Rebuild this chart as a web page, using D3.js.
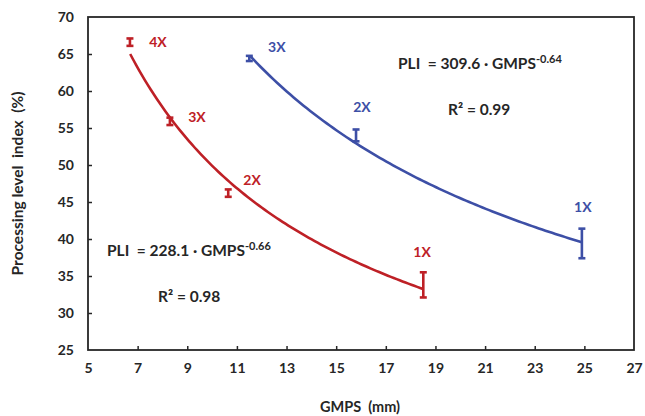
<!DOCTYPE html>
<html><head><meta charset="utf-8">
<script src="https://cdn.jsdelivr.net/npm/d3@7"></script>
<style>
body{margin:0;background:#fff;}
text{font-family:Lato,"Open Sans",sans-serif;font-weight:bold;white-space:pre;}
</style></head>
<body><svg id="c" width="645" height="416"></svg>
<script>
// ---- data ----
const xTicks = [5,7,9,11,13,15,17,19,21,23,25,27];
const yTicks = [25,30,35,40,45,50,55,60,65,70];
const redLabels = ["4X","3X","2X","1X"];
const redX = [6.69, 8.30, 10.65, 18.51];
const redY = [66.6, 55.9, 46.2, 33.8];
const redErr = [0.5, 0.5, 0.5, 1.7];
const blueLabels = ["3X","2X","1X"];
const blueX = [11.5, 15.8, 24.9];
const blueY = [64.4, 54.0, 39.4];
const blueErr = [0.35, 0.8, 2.0];
const fitA = [228.1, 309.6];
const fitB = [-0.66, -0.64];
const fitR2 = ["0.98", "0.99"];
const fitRange = [[6.7, 18.5],[11.55, 24.9]];

const RED = "#BE2026", BLUE = "#3D4FA6";
const svg = d3.select("#c");
const L = 88, R = 634, T = 17, B = 350;
const x = d3.scaleLinear().domain([5,27]).range([L,R]);
const y = d3.scaleLinear().domain([25,70]).range([B,T]);

// frame
svg.append("rect").attr("x",L).attr("y",T).attr("width",R-L).attr("height",B-T)
  .attr("fill","none").attr("stroke","#262626").attr("stroke-width",1.8);

const xa = svg.append("g").attr("transform",`translate(0,${B})`)
  .call(d3.axisBottom(x).tickValues(xTicks).tickSizeInner(-4).tickSizeOuter(0).tickPadding(13));
const ya = svg.append("g").attr("transform",`translate(${L},0)`)
  .call(d3.axisLeft(y).tickValues(yTicks).tickSizeInner(-4).tickSizeOuter(0).tickPadding(14));
[xa,ya].forEach(g=>{
  g.select(".domain").remove();
  g.selectAll("line").attr("stroke","#262626").attr("stroke-width",1.5);
  g.selectAll("text").attr("font-size",14).attr("fill","#262626").attr("font-family","Lato,sans-serif").attr("font-weight","bold");
});
xa.selectAll(".tick").filter(d=>d===5||d===27).select("line").remove();
ya.selectAll(".tick").filter(d=>d===25||d===70).select("line").remove();

// titles
svg.append("text").attr("x",360).attr("y",412).attr("text-anchor","middle")
  .attr("font-size",14.5).attr("fill","#262626").text("GMPS  (mm)");
svg.append("text").attr("transform",`translate(23,${(T+B)/2}) rotate(-90)`).attr("text-anchor","middle")
  .attr("font-size",15.5).attr("fill","#262626").text("Processing level  index  (%)");

// fitted curves (trend lines of the fitted equations shown on the chart)
const line = d3.line().x(d=>x(d[0])).y(d=>y(d[1]));
[RED,BLUE].forEach((col,i)=>{
  const [a,b] = fitRange[i];
  const pts = d3.range(0,101).map(k=>{const xv=a+(b-a)*k/100; return [xv, fitA[i]*Math.pow(xv,fitB[i])];});
  svg.append("path").datum(pts).attr("d",line).attr("fill","none").attr("stroke",col).attr("stroke-width",2.6);
});

// error bars
function bars(xs, ys, es, col){
  const g = svg.append("g").attr("stroke",col).attr("stroke-width",2.6).attr("fill","none");
  xs.forEach((xv,i)=>{
    const cx=x(xv), y1=y(ys[i]+es[i]), y2=y(ys[i]-es[i]);
    g.append("line").attr("x1",cx).attr("x2",cx).attr("y1",y1).attr("y2",y2);
    g.append("line").attr("x1",cx-3.5).attr("x2",cx+3.5).attr("y1",y1).attr("y2",y1);
    g.append("line").attr("x1",cx-3.5).attr("x2",cx+3.5).attr("y1",y2).attr("y2",y2);
  });
}
bars(redX, redY, redErr, RED);
bars(blueX, blueY, blueErr, BLUE);

// point labels
const redLabPos = [[7.82,65.95],[9.39,55.8],[11.61,47.3],[18.46,37.6]];
const blueLabPos = [[12.61,65.3],[16.04,57.2],[24.94,43.65]];
redLabels.forEach((t,i)=>svg.append("text").attr("x",x(redLabPos[i][0])).attr("y",y(redLabPos[i][1]))
  .attr("text-anchor","middle").attr("font-size",14).attr("fill",RED).text(t));
blueLabels.forEach((t,i)=>svg.append("text").attr("x",x(blueLabPos[i][0])).attr("y",y(blueLabPos[i][1]))
  .attr("text-anchor","middle").attr("font-size",14).attr("fill",BLUE).text(t));

// equations
function eq(xp, yp, a, b){
  const t = svg.append("text").attr("x",xp).attr("y",yp).attr("font-size",15.5).attr("fill","#262626");
  t.append("tspan").text(`PLI  = ${a} · GMPS`);
  t.append("tspan").attr("dy",-6).attr("font-size",11).text(b.toFixed(2));
}
eq(398, 69, fitA[1], fitB[1]);
eq(107, 256, fitA[0], fitB[0]);
function r2(xp, yp, v){
  svg.append("text").attr("x",xp).attr("y",yp).attr("font-size",15.5).attr("fill","#262626").text("R² = "+v);
}
r2(448, 115, fitR2[1]);
r2(158, 302, fitR2[0]);
</script></body></html>
